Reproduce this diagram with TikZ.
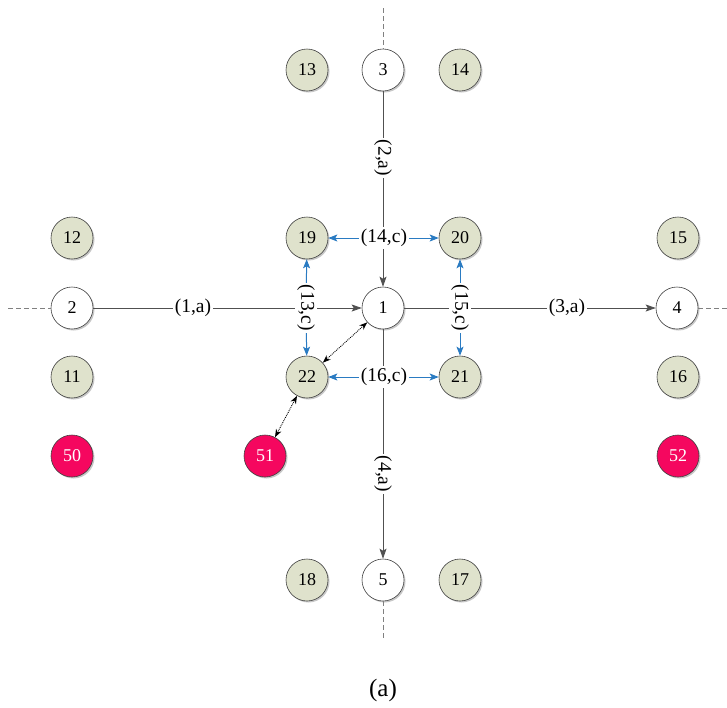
\documentclass[tikz,border=0pt]{standalone}
\usepackage{fontspec}
\setmainfont{Liberation Serif}
\usetikzlibrary{arrows.meta,shadows}

\definecolor{sage}{HTML}{DFE2CC}
\definecolor{hotpink}{HTML}{F5075F}
\definecolor{linkblue}{HTML}{2A7BC2}
\definecolor{wire}{HTML}{505050}
\definecolor{stubgray}{HTML}{808080}

\begin{document}
\begin{tikzpicture}[x=1pt,y=-1pt,
  base/.style={circle, minimum size=42pt, inner sep=0pt, draw=black!75,
    line width=0.6pt, font=\fontsize{18}{18}\selectfont,
    drop shadow={shadow xshift=1.5pt, shadow yshift=-1.5pt, opacity=0.22, fill=black}},
  hub/.style={base, fill=white},
  cell/.style={base, fill=sage},
  alarm/.style={base, fill=hotpink, text=white},
  link/.style={draw=wire, line width=0.8pt,
    -{Stealth[length=10pt,width=7pt,inset=2pt]}, fill=wire},
  tag/.style={fill=white, inner sep=2pt, font=\fontsize{19.5}{19.5}\selectfont},
  vtag/.style={tag, rotate=-90},
  share/.style={draw=linkblue, line width=1pt,
    -{Stealth[length=9pt,width=7pt,inset=2pt]}, fill=linkblue},
  pair/.style={densely dotted, line width=0.9pt,
    {Stealth[length=8pt,width=6pt]}-{Stealth[length=8pt,width=6pt]}},
  stub/.style={draw=stubgray, dash pattern=on 5pt off 3pt, line width=0.8pt}
]
\useasboundingbox (0,0) rectangle (727,707);

% routers on the main axes
\node[hub] (n1) at (383,308) {1};
\node[hub] (n2) at (72,308) {2};
\node[hub] (n3) at (383,70) {3};
\node[hub] (n4) at (677,308) {4};
\node[hub] (n5) at (383,580) {5};

% surrounding cells
\node[cell] (n11) at (72,377) {11};
\node[cell] (n12) at (72,238) {12};
\node[cell] (n13) at (307,70) {13};
\node[cell] (n14) at (460,70) {14};
\node[cell] (n15) at (678,238) {15};
\node[cell] (n16) at (678,377) {16};
\node[cell] (n17) at (460,580) {17};
\node[cell] (n18) at (307,580) {18};
\node[cell] (n19) at (307,238) {19};
\node[cell] (n20) at (460,238) {20};
\node[cell] (n21) at (460,377) {21};
\node[cell] (n22) at (307,377) {22};

% flagged nodes
\node[alarm] (n50) at (72,456) {50};
\node[alarm] (n51) at (265,456) {51};
\node[alarm] (n52) at (678,456) {52};

% free ends of the dashed stubs
\coordinate (s2) at (8,308);
\coordinate (s3) at (383,8);
\coordinate (s4) at (727,308);
\coordinate (s5) at (383,638);

\draw[stub] (s2) -- (n2);
\draw[stub] (s3) -- (n3);
\draw[stub] (n4) -- (s4);
\draw[stub] (n5) -- (s5);

% main links
\draw[link] (n2) -- (n1);
\draw[link] (n3) -- (n1);
\draw[link] (n1) -- (n4);
\draw[link] (n1) -- (n5);

% link labels
\node[tag] (l1a) at (193,308) {(1,a)};
\node[vtag] (l2a) at (383,158) {(2,a)};
\node[tag] (l3a) at (567,308) {(3,a)};
\node[vtag] (l4a) at (383,474) {(4,a)};
\node[tag] (l14c) at (384,238) {(14,c)};
\node[vtag] (l13c) at (306,308) {(13,c)};
\node[vtag] (l15c) at (460,308) {(15,c)};
\node[tag] (l16c) at (384,377) {(16,c)};

% shared channels
\draw[share] (l14c) -- (n19);
\draw[share] (l14c) -- (n20);
\draw[share] (l13c) -- (n19);
\draw[share] (l13c) -- (n22);
\draw[share] (l15c) -- (n20);
\draw[share] (l15c) -- (n21);
\draw[share] (l16c) -- (n22);
\draw[share] (l16c) -- (n21);

% dotted associations
\draw[pair] (n1) -- (n22);
\draw[pair] (n22) -- (n51);

\node[font=\fontsize{25}{25}\selectfont] (cap) at (383,690) {(a)};
\end{tikzpicture}
\end{document}
